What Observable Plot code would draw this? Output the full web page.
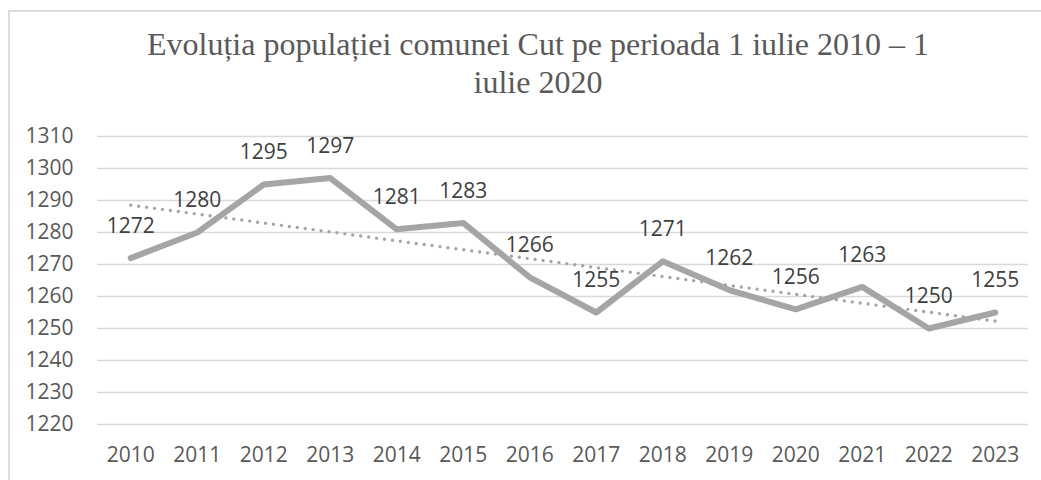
<!DOCTYPE html>
<html>
<head>
<meta charset="utf-8">
<script src="https://cdn.jsdelivr.net/npm/d3@7"></script>
<script src="https://cdn.jsdelivr.net/npm/@observablehq/plot@0.6"></script>
<style>
  html, body { margin: 0; padding: 0; background: #fff; }
  #wrap { position: relative; width: 1041px; height: 480px; overflow: hidden; }
  #frame { position: absolute; left: 8px; top: 10px; width: 1200px; height: 700px;
           border-left: 2px solid #dcdcdc; border-top: 2px solid #dcdcdc; box-sizing: border-box; }
  #header { position: relative; height: 115px; }
  #title { position: absolute; left: 38px; width: 1000px; top: 25px; text-align: center;
           font-family: "Liberation Serif", "Times New Roman", serif; font-size: 32px;
           line-height: 38px; color: #595959; }
  #chart { position: relative; }
</style>
</head>
<body>
<div id="wrap">
  <div id="frame"></div>
  <div id="header"><div id="title">Evoluția populației comunei Cut pe perioada 1 iulie 2010 – 1<br>iulie 2020</div></div>
  <div id="chart"></div>
</div>
<script>
const years = [2010, 2011, 2012, 2013, 2014, 2015, 2016, 2017, 2018, 2019, 2020, 2021, 2022, 2023];
const population = [1272, 1280, 1295, 1297, 1281, 1283, 1266, 1255, 1271, 1262, 1256, 1263, 1250, 1255];
const yTicks = [1220, 1230, 1240, 1250, 1260, 1270, 1280, 1290, 1300, 1310];

const data = years.map((year, i) => ({year, population: population[i]}));

const chart = Plot.plot({
  width: 1041,
  height: 365,
  marginLeft: 97,
  marginRight: 13,
  marginTop: 21,
  marginBottom: 56,
  style: {fontFamily: "'Open Sans', sans-serif", fontSize: "21px", color: "#595959", background: "transparent", overflow: "visible"},
  x: {domain: [2009.5, 2023.5], label: null},
  y: {domain: [1220, 1310], label: null},
  marks: [
    Plot.gridY(yTicks, {stroke: "#d9d9d9", strokeOpacity: 1, strokeWidth: 1.4}),
    Plot.axisY({ticks: yTicks, tickSize: 0, tickPadding: 24, fontSize: 21, fill: "#595959", label: null, tickFormat: d => String(d)}),
    Plot.axisX({ticks: years, tickSize: 0, tickPadding: 23, fontSize: 21, fill: "#595959", label: null, tickFormat: d => String(d)}),
    Plot.line(data, {x: "year", y: "population", stroke: "#a5a5a5", strokeWidth: 6, strokeLinejoin: "round", strokeLinecap: "round"}),
    Plot.linearRegressionY(data, {x: "year", y: "population", ci: 0, stroke: "#a5a5a5", strokeWidth: 3.4, strokeDasharray: "0,8", strokeLinecap: "round"}),
    Plot.text(data, {x: "year", y: "population", text: d => String(d.population), dy: -32, fill: "#404040", fontSize: 21})
  ]
});
document.getElementById("chart").appendChild(chart);
</script>
</body>
</html>
